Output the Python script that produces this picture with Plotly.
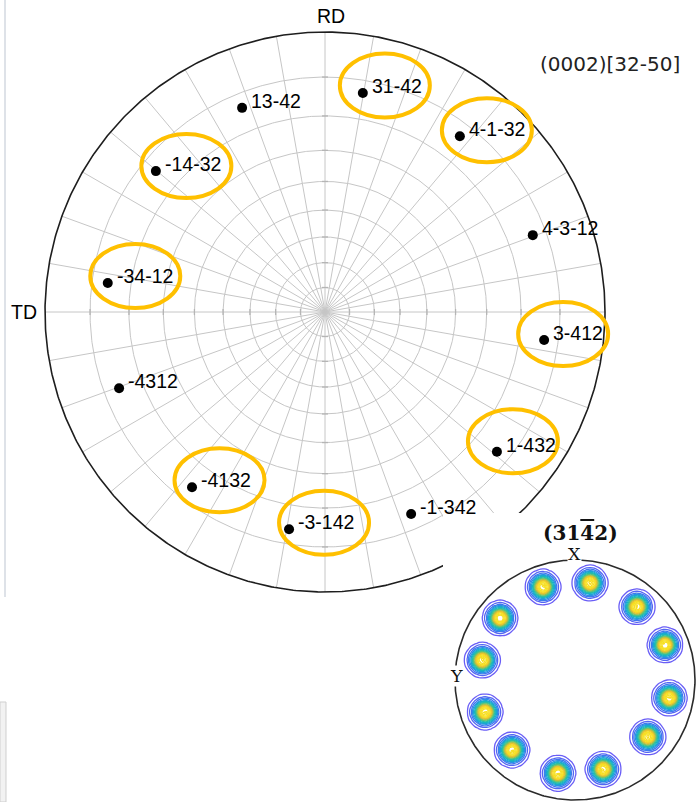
import numpy as np
import plotly.graph_objects as go

# ---- main stereographic net: (0002)[32-50] orientation, {31-42} poles ----
pole_labels = ["4-3-12", "4-1-32", "31-42", "13-42", "-14-32", "-34-12",
               "-4312", "-4132", "-3-142", "-1-342", "1-432", "3-412"]
# azimuth in degrees, counter-clockwise from the right-hand edge
pole_azimuth = [20.3, 52.5, 80.2, 112.1, 140.2, 172.4,
                200.3, 232.8, 260.6, 293.1, 320.9, 352.7]
# tilt from the net centre, degrees
pole_tilt = [76.7, 76.7, 76.9, 76.4, 76.35, 76.1,
             76.2, 76.3, 76.35, 76.2, 76.7, 76.55]

# poles singled out with a ring, and the ring offset (px right, px up)
highlight_shift = {
    "31-42": (22, 7.5), "4-1-32": (27, 6), "-14-32": (30.5, 5),
    "-34-12": (27.5, 7), "3-412": (19, 6), "1-432": (16, 10.5),
    "-4132": (27.5, 7), "-3-142": (35, 6.5),
}

net_tilts = list(range(10, 90, 10))       # small circles every 10 deg
net_azimuths = list(range(0, 360, 10))    # meridians every 10 deg

# ---- inset pole figure of (31-42) ----
spot_azimuth = [109.0, 81.2, 49.7, 21.3, 349.2, 322.0,
                287.5, 259.6, 228.0, 199.6, 167.9, 140.4]
spot_radius = [0.82, 0.818, 0.80, 0.805, 0.80, 0.77,
               0.78, 0.79, 0.785, 0.795, 0.79, 0.81]

W, H = 700, 802
CX, CY, RPX = 325, 312, 280          # net centre and radius in px
ICX, ICY, IRPX = 575, 680, 120       # inset centre and radius in px
INSET_X0, INSET_Y0 = 443, 513        # inset panel top-left in px


def stereo(tilt_deg):
    return np.tan(np.radians(np.asarray(tilt_deg, float)) / 2.0)


fig = go.Figure()

# net grid lines
gx, gy = [], []
t = np.linspace(0, 2 * np.pi, 721)
for tilt in net_tilts:
    r = float(stereo(tilt))
    gx += list(r * np.cos(t)) + [None]
    gy += list(r * np.sin(t)) + [None]
for az in net_azimuths:
    a = np.radians(az)
    gx += [0, np.cos(a), None]
    gy += [0, np.sin(a), None]
fig.add_trace(go.Scatter(x=gx, y=gy, mode="lines", hoverinfo="skip",
                         line=dict(color="#c6c6c6", width=1), xaxis="x", yaxis="y"))

# small ticks where circles cross the four main axes
tk = 3.0 / RPX
tx, ty = [], []
for tilt in net_tilts:
    r = float(stereo(tilt))
    tx += [r, r, None, -r, -r, None, -tk, tk, None, -tk, tk, None]
    ty += [-tk, tk, None, -tk, tk, None, r, r, None, -r, -r, None]
fig.add_trace(go.Scatter(x=tx, y=ty, mode="lines", hoverinfo="skip",
                         line=dict(color="#b5b5b5", width=1.3), xaxis="x", yaxis="y"))

# primitive circle
fig.add_trace(go.Scatter(x=np.cos(t), y=np.sin(t), mode="lines", hoverinfo="skip",
                         line=dict(color="#1e1e1e", width=1.6), xaxis="x", yaxis="y"))

# white panel behind the inset
px0 = (INSET_X0 - CX) / RPX
px1 = (W + 5 - CX) / RPX
py0 = (CY - INSET_Y0) / RPX
py1 = (CY - H - 5) / RPX
fig.add_trace(go.Scatter(x=[px0, px1, px1, px0, px0], y=[py0, py0, py1, py1, py0],
                         mode="lines", fill="toself", fillcolor="white",
                         line=dict(width=0, color="white"), hoverinfo="skip",
                         xaxis="x", yaxis="y"))

# poles
pr = stereo(pole_tilt)
pa = np.radians(pole_azimuth)
pole_x = pr * np.cos(pa)
pole_y = pr * np.sin(pa)
fig.add_trace(go.Scatter(x=pole_x, y=pole_y, mode="markers", hoverinfo="skip",
                         marker=dict(color="black", size=10), xaxis="x", yaxis="y"))

for lab, x, y in zip(pole_labels, pole_x, pole_y):
    fig.add_annotation(x=x, y=y, xref="x", yref="y", text=lab, showarrow=False,
                       xanchor="left", yanchor="middle", xshift=7, yshift=7,
                       font=dict(family="Liberation Sans, Arial", size=19.5, color="black"))

# highlight rings
ea, eb = 45 / RPX, 32 / RPX
for lab, x, y in zip(pole_labels, pole_x, pole_y):
    if lab in highlight_shift:
        dx, dy = highlight_shift[lab]
        ex, ey = x + dx / RPX, y + dy / RPX
        fig.add_shape(type="circle", xref="x", yref="y",
                      x0=ex - ea, x1=ex + ea, y0=ey - eb, y1=ey + eb,
                      line=dict(color="#FFC000", width=4), layer="above")

# ---- inset ----
gxs = np.arange(-1.12, 1.07, 0.032)
gys = np.arange(-1.04, 1.40, 0.032)
GX, GY = np.meshgrid(gxs, gys)
Z = np.zeros_like(GX)
sig = 0.06
for a, r in zip(spot_azimuth, spot_radius):
    sx, sy = r * np.cos(np.radians(a)), r * np.sin(np.radians(a))
    Z += np.exp(-((GX - sx) ** 2 + (GY - sy) ** 2) / (2 * sig ** 2))

parula = [[0.0, "#6a5ef6"], [0.12, "#4b6af2"], [0.25, "#2a8fe6"], [0.4, "#12b2c8"],
          [0.55, "#2cc0a0"], [0.7, "#86c458"], [0.85, "#e9bd30"], [1.0, "#f7df22"]]
fig.add_trace(go.Contour(x=gxs, y=gys, z=Z, xaxis="x2", yaxis="y2",
                         colorscale=parula, zmin=0, zmax=0.8, showscale=False,
                         contours=dict(coloring="lines", start=0.05, end=0.98, size=0.06),
                         line=dict(width=1.3), hoverinfo="skip"))

fig.add_trace(go.Scatter(x=np.cos(t), y=np.sin(t), mode="lines", hoverinfo="skip",
                         line=dict(color="#2b2b2b", width=1.6), xaxis="x2", yaxis="y2"))

# ---- axes ----
ax_common = dict(visible=False, showgrid=False, zeroline=False, fixedrange=True)
fig.update_layout(
    width=W, height=H, margin=dict(l=0, r=0, t=0, b=0),
    paper_bgcolor="white", plot_bgcolor="rgba(0,0,0,0)", showlegend=False,
    xaxis=dict(domain=[0, 1], range=[-CX / RPX, (W - CX) / RPX], **ax_common),
    yaxis=dict(domain=[0, 1], range=[(CY - H) / RPX, CY / RPX], **ax_common),
    xaxis2=dict(domain=[INSET_X0 / W, 1], anchor="y2",
                range=[(INSET_X0 - ICX) / IRPX, (W - ICX) / IRPX], **ax_common),
    yaxis2=dict(domain=[0, (H - INSET_Y0) / H], anchor="x2",
                range=[(ICY - H) / IRPX, (ICY - INSET_Y0) / IRPX], **ax_common),
)

# ---- text ----
def paper(xp, yp):
    return xp / W, 1 - yp / H

sans = "Liberation Sans, Arial"
x_, y_ = paper(331, 16)
fig.add_annotation(x=x_, y=y_, xref="paper", yref="paper", text="RD", showarrow=False,
                   xanchor="center", yanchor="middle", font=dict(family=sans, size=19.5, color="black"))
x_, y_ = paper(39, 312)
fig.add_annotation(x=x_, y=y_, xref="paper", yref="paper", text="TD", showarrow=False,
                   xanchor="right", yanchor="middle", font=dict(family=sans, size=19.5, color="black"))
x_, y_ = paper(538, 64)
fig.add_annotation(x=x_, y=y_, xref="paper", yref="paper", text="(0002)[32-50]", showarrow=False,
                   xanchor="left", yanchor="middle", font=dict(family="DejaVu Sans", size=20, color="#222"))

serif = "DejaVu Serif"
x_, y_ = paper(580, 533)
fig.add_annotation(x=x_, y=y_, xref="paper", yref="paper",
                   text="<b>(31<span style='text-decoration:overline'>4</span>2)</b>",
                   showarrow=False, xanchor="center", yanchor="middle",
                   font=dict(family=serif, size=20, color="#111"))
x_, y_ = paper(574, 554)
fig.add_annotation(x=x_, y=y_, xref="paper", yref="paper", text="X", showarrow=False,
                   xanchor="center", yanchor="middle", bgcolor="white", borderpad=0,
                   font=dict(family=serif, size=17.5, color="#111"))
x_, y_ = paper(456, 676)
fig.add_annotation(x=x_, y=y_, xref="paper", yref="paper", text="Y", showarrow=False,
                   xanchor="center", yanchor="middle", bgcolor="white", borderpad=0,
                   font=dict(family=serif, size=17.5, color="#111"))

# thin window edge on the left
fig.add_shape(type="line", xref="paper", yref="paper", x0=5 / W, x1=5 / W, y0=1, y1=1 - 597 / H,
              line=dict(color="#d3d9e0", width=1.5))
fig.add_shape(type="rect", xref="paper", yref="paper", x0=0, x1=6 / W, y0=0, y1=1 - 702 / H,
              line=dict(color="#cfcfcf", width=1), fillcolor="#f2f2f2")

fig.write_html("out.html")
